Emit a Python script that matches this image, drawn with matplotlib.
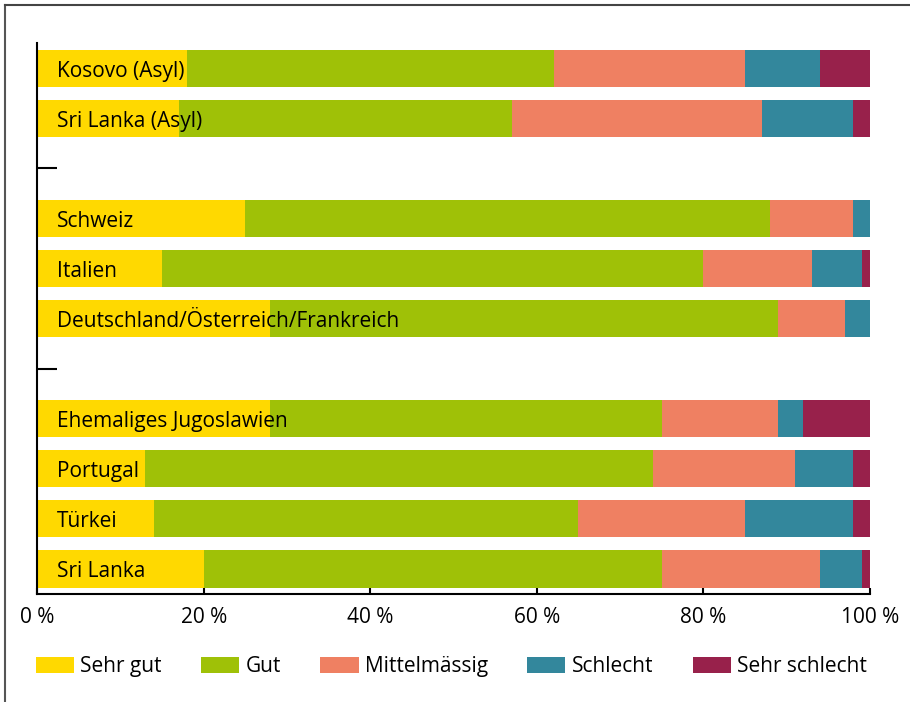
import matplotlib
matplotlib.use("Agg")
import matplotlib.pyplot as plt
from matplotlib.lines import Line2D
import numpy as np

plt.rcParams['font.family'] = ['Open Sans', 'DejaVu Sans']

# '' = leere Zeile (Trenner)
laender = ['Kosovo (Asyl)', 'Sri Lanka (Asyl)', '',
           'Schweiz', 'Italien', 'Deutschland/Österreich/Frankreich', '',
           'Ehemaliges Jugoslawien', 'Portugal', 'Türkei', 'Sri Lanka']
sehr_gut = [18, 17, 0, 25, 15, 28, 0, 28, 13, 14, 20]
gut = [44, 40, 0, 63, 65, 61, 0, 47, 61, 51, 55]
mittel = [23, 30, 0, 10, 13, 8, 0, 14, 17, 20, 19]
schlecht = [9, 11, 0, 2, 6, 3, 0, 3, 7, 13, 5]
sehr_schlecht = [6, 2, 0, 0, 1, 0, 0, 8, 2, 2, 1]

kategorien = ['Sehr gut', 'Gut', 'Mittelmässig', 'Schlecht', 'Sehr schlecht']
farben = ['#FFD900', '#9FC107', '#EF8062', '#33879C', '#98214B']

fs = 15

fig = plt.figure(figsize=(9.1, 7.02), dpi=100)
ax = fig.add_axes([0.0407, 0.1538, 0.9154, 0.7849])

y = np.arange(len(laender))
links = np.zeros(len(laender))
for werte, farbe, name in zip([sehr_gut, gut, mittel, schlecht, sehr_schlecht], farben, kategorien):
    ax.barh(y, werte, left=links, height=0.74, color=farbe, label=name)
    links += np.array(werte)

for i, name in enumerate(laender):
    if name:
        ax.text(2.4, i + 0.06, name, va='center', ha='left', fontsize=fs)

ax.set_xlim(0, 100)
ax.set_ylim(len(laender) - 0.5, -0.5)
ax.set_xticks(np.arange(0, 101, 20))
ax.set_xticklabels([f'{v} %' for v in range(0, 101, 20)], fontsize=fs)
ax.set_yticks([i for i, n in enumerate(laender) if n == ''])
ax.set_yticklabels([])
ax.tick_params(axis='x', direction='in', length=4, width=1.5, pad=9)
ax.tick_params(axis='y', direction='in', length=14.4, width=1.5)
ax.spines['top'].set_visible(False)
ax.spines['right'].set_visible(False)
ax.spines['left'].set_linewidth(1.5)
ax.spines['bottom'].set_linewidth(1.5)

fig.legend(loc='center left', bbox_to_anchor=(0.0396, 0.05), ncol=5, frameon=False,
           fontsize=fs, handlelength=1.83, handleheight=0.77, handletextpad=0.29,
           columnspacing=1.9, borderpad=0, borderaxespad=0)

# Rahmen links und oben
fig.add_artist(Line2D([0.005, 0.005], [0, 0.993], color='#555555', lw=1.5))
fig.add_artist(Line2D([0.005, 1], [0.993, 0.993], color='#444444', lw=1.5))

fig.savefig('out.png', dpi=100)
